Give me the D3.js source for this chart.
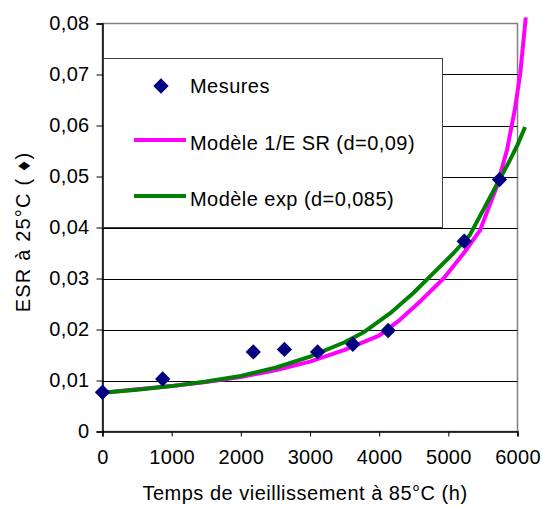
<!DOCTYPE html>
<html><head><meta charset="utf-8">
<script src="https://cdn.jsdelivr.net/npm/d3@7"></script>
<style>body{margin:0;background:#fff}svg{display:block;font-family:"Liberation Sans",Arial,sans-serif}</style>
</head><body><svg id="c" width="543" height="506"></svg>
<script>
// Measurements
const mesT = [0, 870, 2180, 2630, 3110, 3620, 4130, 5230, 5740];
const mesV = [0.0077, 0.0103, 0.0156, 0.0161, 0.0156, 0.0171, 0.0198, 0.0373, 0.0494];
// Model 1/ESR (d=0,09)
const invT = [0, 500, 1000, 1500, 2000, 2500, 3000, 3500, 4000, 4300, 4600, 4930, 5220, 5460, 5700, 5850, 5960, 6040, 6120];
const invV = [0.0076, 0.0083, 0.0089, 0.0097, 0.0107, 0.0120, 0.0137, 0.0160, 0.0188, 0.0219, 0.0256, 0.0300, 0.0349, 0.0395, 0.0480, 0.0553, 0.0630, 0.0702, 0.0812];
// Model exp (d=0,085)
const expT = [0, 500, 1000, 1500, 2000, 2500, 3000, 3500, 3770, 4160, 4490, 4780, 5070, 5310, 5740, 5890, 6000, 6110];
const expV = [0.0076, 0.0082, 0.0089, 0.0098, 0.0109, 0.0125, 0.0147, 0.0175, 0.0194, 0.0232, 0.0271, 0.0310, 0.0349, 0.0385, 0.0494, 0.0532, 0.0562, 0.0597];
const xTicks = [0, 1000, 2000, 3000, 4000, 5000, 6000];
const yTicks = [0, 0.01, 0.02, 0.03, 0.04, 0.05, 0.06, 0.07, 0.08];
const legendLabels = ["Mesures", "Modèle 1/E SR (d=0,09)", "Modèle exp (d=0,085)"];

const svg = d3.select("#c");
const x = d3.scaleLinear().domain([0, 6000]).range([102.5, 517.5]);
const y = d3.scaleLinear().domain([0, 0.08]).range([431.5, 23.5]);
const fmtY = v => v === 0 ? "0" : d3.format(".2f")(v).replace(".", ",");

// plot area border
svg.append("rect").attr("x", x(0)).attr("y", y(0.08)).attr("width", x(6000) - x(0)).attr("height", y(0) - y(0.08))
  .attr("fill", "#fff").attr("stroke", "#808080").attr("stroke-width", 1.5);
// gridlines
svg.append("g").selectAll("line").data(yTicks.filter(v => v > 0 && v < 0.08)).join("line")
  .attr("x1", x(0)).attr("x2", x(6000)).attr("y1", d => Math.round(y(d)) + 0.5).attr("y2", d => Math.round(y(d)) + 0.5)
  .attr("stroke", "#000").attr("stroke-width", 1);

// axes
const yAxis = svg.append("g").attr("transform", `translate(${x(0)},0)`)
  .call(d3.axisLeft(y).tickValues(yTicks).tickFormat(fmtY).tickSize(6).tickPadding(7));
const xAxis = svg.append("g").attr("transform", `translate(0,${y(0)})`)
  .call(d3.axisBottom(x).tickValues(xTicks).tickFormat(d3.format("d")).tickSize(5).tickPadding(13));
[yAxis, xAxis].forEach(a => {
  a.select(".domain").attr("stroke", "#000").attr("stroke-width", 1.5);
  a.selectAll(".tick line").attr("stroke", "#000");
  a.selectAll("text").attr("font-size", 20).attr("fill", "#000").attr("letter-spacing", 0.3)
    .attr("font-family", "Liberation Sans, Arial, sans-serif");
});

// legend
const lg = svg.append("g");
lg.append("rect").attr("x", 103.5).attr("y", 58.5).attr("width", 339).attr("height", 169)
  .attr("fill", "#fff").attr("stroke", "#404040").attr("stroke-width", 1);
const diamond = d3.symbol().type(d3.symbolDiamond2).size(150);
lg.append("path").attr("d", diamond).attr("transform", "translate(161,86)").attr("fill", "#000080");
lg.append("line").attr("x1", 134).attr("x2", 186).attr("y1", 140).attr("y2", 140).attr("stroke", "#ff00ff").attr("stroke-width", 4);
lg.append("line").attr("x1", 134).attr("x2", 186).attr("y1", 196).attr("y2", 196).attr("stroke", "#008000").attr("stroke-width", 4);
lg.selectAll("text").data(legendLabels).join("text")
  .attr("x", 190).attr("y", (d, i) => [93, 150, 206][i]).attr("font-size", 20).attr("letter-spacing", 0.45)
  .attr("fill", "#000").text(d => d);

// curves
const line = d3.line().x(d => x(d[0])).y(d => y(d[1]));
svg.append("path").datum(invT.map((t, i) => [t, invV[i]])).attr("d", line)
  .attr("fill", "none").attr("stroke", "#ff00ff").attr("stroke-width", 4).attr("stroke-linejoin", "round");
svg.append("path").datum(expT.map((t, i) => [t, expV[i]])).attr("d", line)
  .attr("fill", "none").attr("stroke", "#008000").attr("stroke-width", 4).attr("stroke-linejoin", "round");

// measurements
svg.append("g").selectAll("path").data(mesT.map((t, i) => [t, mesV[i]])).join("path")
  .attr("d", diamond).attr("transform", d => `translate(${x(d[0])},${y(d[1])})`).attr("fill", "#000080");

// axis titles
svg.append("text").attr("transform", "translate(30,232) rotate(-90)").attr("text-anchor", "middle")
  .attr("font-size", 20).attr("letter-spacing", 1.2).attr("fill", "#000").text("ESR à 25°C ( ♦)");
svg.append("text").attr("x", 305).attr("y", 500).attr("text-anchor", "middle")
  .attr("font-size", 20).attr("letter-spacing", 0.5).attr("fill", "#000").text("Temps de vieillissement à 85°C (h)");
</script></body></html>
